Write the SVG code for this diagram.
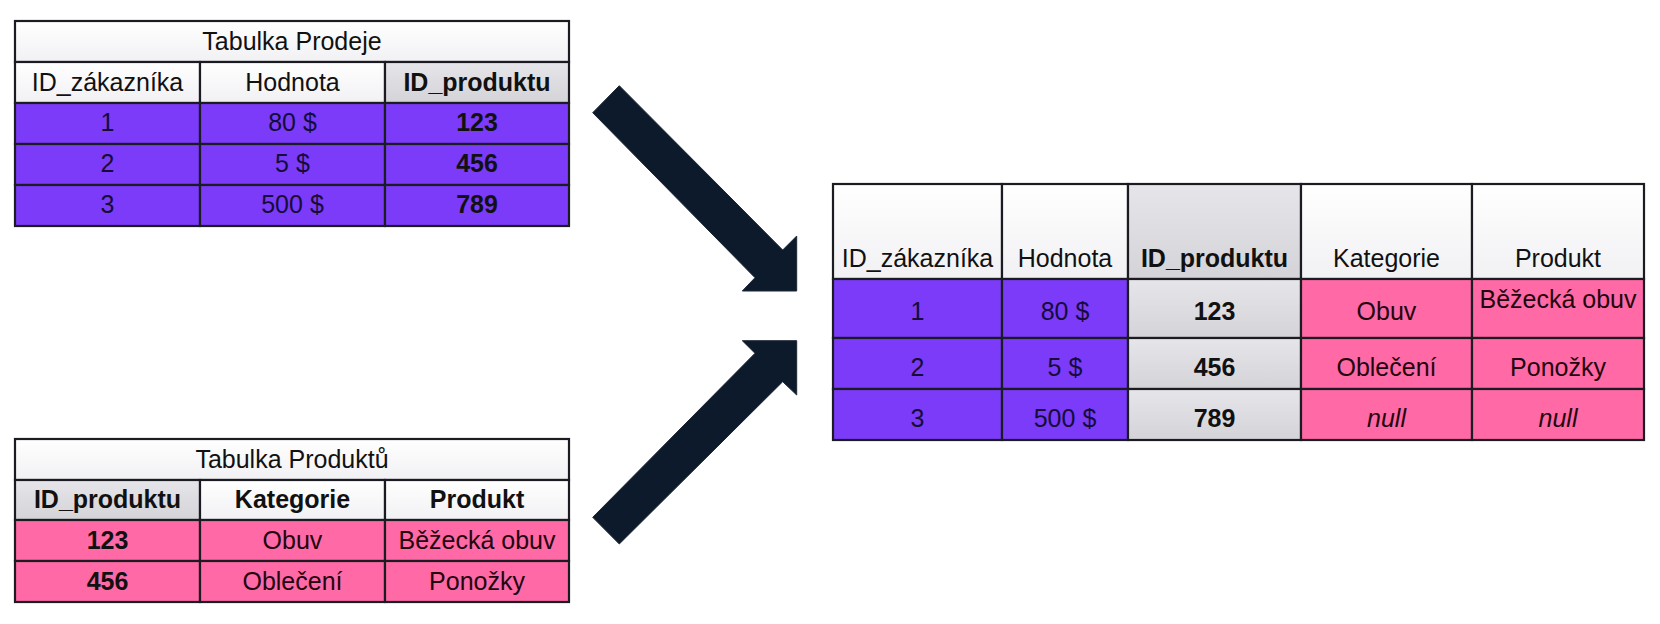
<svg xmlns="http://www.w3.org/2000/svg" width="1660" height="624" viewBox="0 0 1660 624">
<defs>
<linearGradient id="gWhite" x1="0" y1="0" x2="0" y2="1">
<stop offset="0" stop-color="#ffffff"/><stop offset="1" stop-color="#f1f1f4"/>
</linearGradient>
<linearGradient id="gGray" x1="0" y1="0" x2="0" y2="1">
<stop offset="0" stop-color="#e6e6ea"/><stop offset="1" stop-color="#d3d3d8"/>
</linearGradient>
<style>
.c{stroke:#1b1b22;stroke-width:2.2}
.w{fill:url(#gWhite)}
.g{fill:url(#gGray)}
.p{fill:#7b3bf8}
.k{fill:#ff69a6}
text{font-family:"Liberation Sans",Arial,sans-serif;font-size:25px;text-anchor:middle}
.t{fill:#111}
.tp{fill:#150c38}
.tk{fill:#22060f}
.b{font-weight:bold}
.i{font-style:italic}
.arr{fill:#0c1a2b;stroke:#1c2836;stroke-width:1}
</style>
</defs>
<rect width="1660" height="624" fill="#ffffff"/>

<g id="tabulka-prodeje">
<rect class="c w" x="15" y="21" width="554" height="41"/>
<rect class="c w" x="15" y="62" width="185" height="41"/>
<rect class="c w" x="200" y="62" width="185" height="41"/>
<rect class="c g" x="385" y="62" width="184" height="41"/>
<rect class="c p" x="15" y="103" width="185" height="41"/>
<rect class="c p" x="200" y="103" width="185" height="41"/>
<rect class="c p" x="385" y="103" width="184" height="41"/>
<rect class="c p" x="15" y="144" width="185" height="41"/>
<rect class="c p" x="200" y="144" width="185" height="41"/>
<rect class="c p" x="385" y="144" width="184" height="41"/>
<rect class="c p" x="15" y="185" width="185" height="41"/>
<rect class="c p" x="200" y="185" width="185" height="41"/>
<rect class="c p" x="385" y="185" width="184" height="41"/>
<text class="t" x="292" y="50">Tabulka Prodeje</text>
<text class="t" x="107.5" y="91">ID_zákazníka</text>
<text class="t" x="292.5" y="91">Hodnota</text>
<text class="t b" x="477" y="91">ID_produktu</text>
<text class="tp" x="107.5" y="131">1</text>
<text class="tp" x="292.5" y="131">80 $</text>
<text class="t b" x="477" y="131">123</text>
<text class="tp" x="107.5" y="172">2</text>
<text class="tp" x="292.5" y="172">5 $</text>
<text class="t b" x="477" y="172">456</text>
<text class="tp" x="107.5" y="213">3</text>
<text class="tp" x="292.5" y="213">500 $</text>
<text class="t b" x="477" y="213">789</text>
</g>

<g id="tabulka-produktu">
<rect class="c w" x="15" y="439" width="554" height="41"/>
<rect class="c g" x="15" y="480" width="185" height="40"/>
<rect class="c w" x="200" y="480" width="185" height="40"/>
<rect class="c w" x="385" y="480" width="184" height="40"/>
<rect class="c k" x="15" y="520" width="185" height="41"/>
<rect class="c k" x="200" y="520" width="185" height="41"/>
<rect class="c k" x="385" y="520" width="184" height="41"/>
<rect class="c k" x="15" y="561" width="185" height="41"/>
<rect class="c k" x="200" y="561" width="185" height="41"/>
<rect class="c k" x="385" y="561" width="184" height="41"/>
<text class="t" x="292" y="468">Tabulka Produktů</text>
<text class="t b" x="107.5" y="508">ID_produktu</text>
<text class="t b" x="292.5" y="508">Kategorie</text>
<text class="t b" x="477" y="508">Produkt</text>
<text class="t b" x="107.5" y="549">123</text>
<text class="tk" x="292.5" y="549">Obuv</text>
<text class="tk" x="477" y="549">Běžecká obuv</text>
<text class="t b" x="107.5" y="590">456</text>
<text class="tk" x="292.5" y="590">Oblečení</text>
<text class="tk" x="477" y="590">Ponožky</text>
</g>

<g id="vysledek">
<rect class="c w" x="833" y="184" width="169" height="95"/>
<rect class="c w" x="1002" y="184" width="126" height="95"/>
<rect class="c g" x="1128" y="184" width="173" height="95"/>
<rect class="c w" x="1301" y="184" width="171" height="95"/>
<rect class="c w" x="1472" y="184" width="172" height="95"/>

<rect class="c p" x="833" y="279" width="169" height="59"/>
<rect class="c p" x="1002" y="279" width="126" height="59"/>
<rect class="c g" x="1128" y="279" width="173" height="59"/>
<rect class="c k" x="1301" y="279" width="171" height="59"/>
<rect class="c k" x="1472" y="279" width="172" height="59"/>

<rect class="c p" x="833" y="338" width="169" height="51"/>
<rect class="c p" x="1002" y="338" width="126" height="51"/>
<rect class="c g" x="1128" y="338" width="173" height="51"/>
<rect class="c k" x="1301" y="338" width="171" height="51"/>
<rect class="c k" x="1472" y="338" width="172" height="51"/>

<rect class="c p" x="833" y="389" width="169" height="51"/>
<rect class="c p" x="1002" y="389" width="126" height="51"/>
<rect class="c g" x="1128" y="389" width="173" height="51"/>
<rect class="c k" x="1301" y="389" width="171" height="51"/>
<rect class="c k" x="1472" y="389" width="172" height="51"/>

<text class="t" x="917.5" y="267">ID_zákazníka</text>
<text class="t" x="1065" y="267">Hodnota</text>
<text class="t b" x="1214.5" y="267">ID_produktu</text>
<text class="t" x="1386.5" y="267">Kategorie</text>
<text class="t" x="1558" y="267">Produkt</text>

<text class="tp" x="917.5" y="320">1</text>
<text class="tp" x="1065" y="320">80 $</text>
<text class="t b" x="1214.5" y="320">123</text>
<text class="tk" x="1386.5" y="320">Obuv</text>
<text class="tk" x="1558" y="308">Běžecká obuv</text>

<text class="tp" x="917.5" y="376">2</text>
<text class="tp" x="1065" y="376">5 $</text>
<text class="t b" x="1214.5" y="376">456</text>
<text class="tk" x="1386.5" y="376">Oblečení</text>
<text class="tk" x="1558" y="376">Ponožky</text>

<text class="tp" x="917.5" y="427">3</text>
<text class="tp" x="1065" y="427">500 $</text>
<text class="t b" x="1214.5" y="427">789</text>
<text class="tk i" x="1386.5" y="427">null</text>
<text class="tk i" x="1558" y="427">null</text>
</g>

<g id="connectors">
<polygon class="arr" points="619.3,85.7 782.7,250 796.7,236 796.7,291 742.3,291 755,277.7 592.7,112.7"/>
<polygon class="arr" points="619.3,544 782.7,381.7 796.7,395 796.7,340.7 742.3,340.7 755,353.3 592.7,517.3"/>
</g>
</svg>
